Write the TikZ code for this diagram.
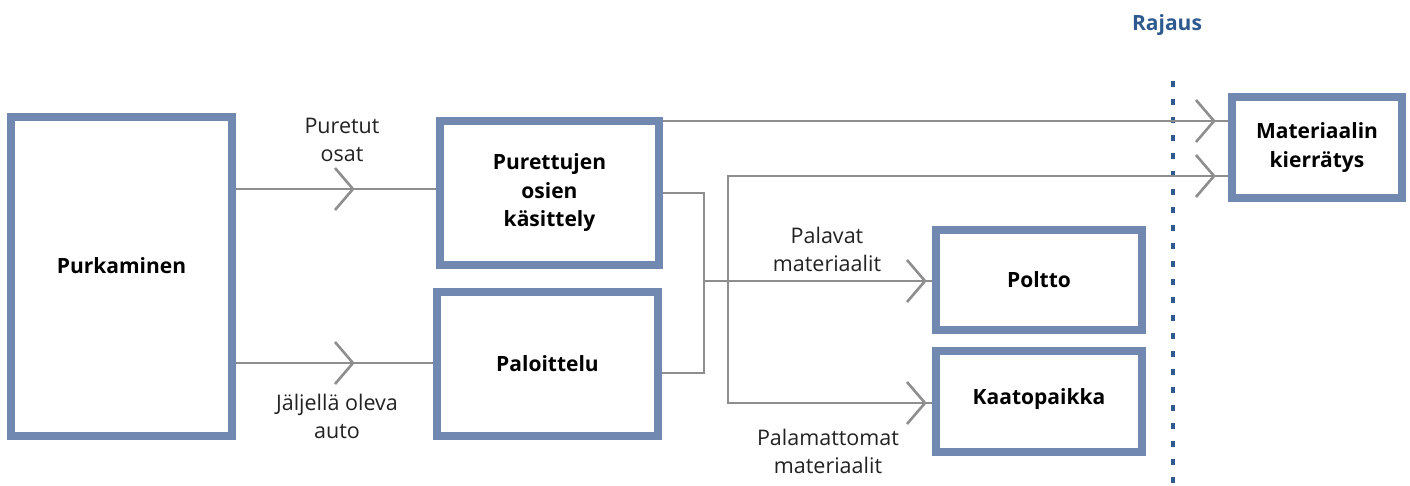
\documentclass[tikz,border=0pt]{standalone}
\usepackage{fontspec}
\setmainfont{Open Sans}
\usetikzlibrary{decorations.markings}
\definecolor{boxblue}{HTML}{7189B0}
\definecolor{linegray}{HTML}{8E8E8E}
\definecolor{rajblue}{HTML}{2E5A8F}
\definecolor{txtdark}{HTML}{222222}

\begin{document}
\begin{tikzpicture}[x=1pt,y=-1pt,
  boxfont/.style={font=\bfseries\fontsize{21}{28.5}\selectfont},
  procbox/.style={draw=boxblue, line width=8pt, fill=white, rectangle, inner sep=0pt,
    boxfont, align=center},
  flow/.style={draw=linegray, line width=2.6pt},
  lbl/.style={font=\fontsize{21.5}{28}\selectfont, align=center, text=txtdark, inner sep=0pt},
  chev/.style={postaction={decorate}, decoration={markings, mark=at position #1 with {%
    \draw[linegray, line width=2.6pt, line cap=butt, line join=miter] (-18pt,21pt) -- (0pt,0pt) -- (-18pt,-21pt);}}}
]
\useasboundingbox (0,0) rectangle (1410,485);

% process boxes
\node[procbox, minimum width=221pt, minimum height=319pt] (purk) at (121.5,276.5) {};
\node[boxfont, inner sep=0pt] (purktxt) at (121.5,266) {Purkaminen};
\node[procbox, minimum width=219pt, minimum height=144pt] (kas) at (549.5,193) {Purettujen\\osien\\käsittely};
\node[procbox, minimum width=221pt, minimum height=144pt] (palo) at (547.5,364) {Paloittelu};
\node[procbox, minimum width=206pt, minimum height=100pt] (polt) at (1039,280) {Poltto};
\node[procbox, minimum width=206pt, minimum height=101pt] (kaato) at (1039,401.5) {};
\node[boxfont, inner sep=0pt] (kaatotxt) at (1039,399) {Kaatopaikka};
\node[procbox, minimum width=170pt, minimum height=101pt] (kierr) at (1317,147.5) {Materiaalin\\kierrätys};

% system boundary
\coordinate (rajtop) at (1173,81);
\coordinate (rajbot) at (1173,485);
\draw[rajblue, line width=4.5pt, dash pattern=on 6pt off 12pt] (rajtop) -- (rajbot);
\node[boxfont, text=rajblue, inner sep=0pt] (raj) at (1167,25) {Rajaus};

% junction points
\coordinate (jA) at (704,193);
\coordinate (jB) at (704,373);
\coordinate (jM) at (704,281);
\coordinate (jC) at (728,281);
\coordinate (jU) at (728,176);
\coordinate (jD) at (728,403);

% flows
\draw[flow, chev=-83pt] (purk.east |- 0,189) -- (kas.west |- 0,189);
\draw[flow, chev=-80pt] (purk.east |- 0,363) -- (palo.west |- 0,363);
\draw[flow, chev=-14pt] (kas.east |- 0,121) -- (kierr.west |- 0,121);
\draw[flow] (kas.east |- jA) -- (jA) -- (jB) -- (palo.east |- jB);
\draw[flow, chev=-7pt] (jM) -- (polt.west |- jM);
\draw[flow, chev=-14pt] (jC) -- (jU) -- (kierr.west |- jU);
\draw[flow, chev=-7pt] (jC) -- (jD) -- (kaato.west |- jD);

% flow labels
\node[lbl] (l1) at (342,140) {Puretut\\osat};
\node[lbl] (l2) at (337,416) {Jäljellä oleva\\auto};
\node[lbl] (l3) at (827,249) {Palavat\\materiaalit};
\node[lbl] (l4) at (828,451) {Palamattomat\\materiaalit};
\end{tikzpicture}
\end{document}
